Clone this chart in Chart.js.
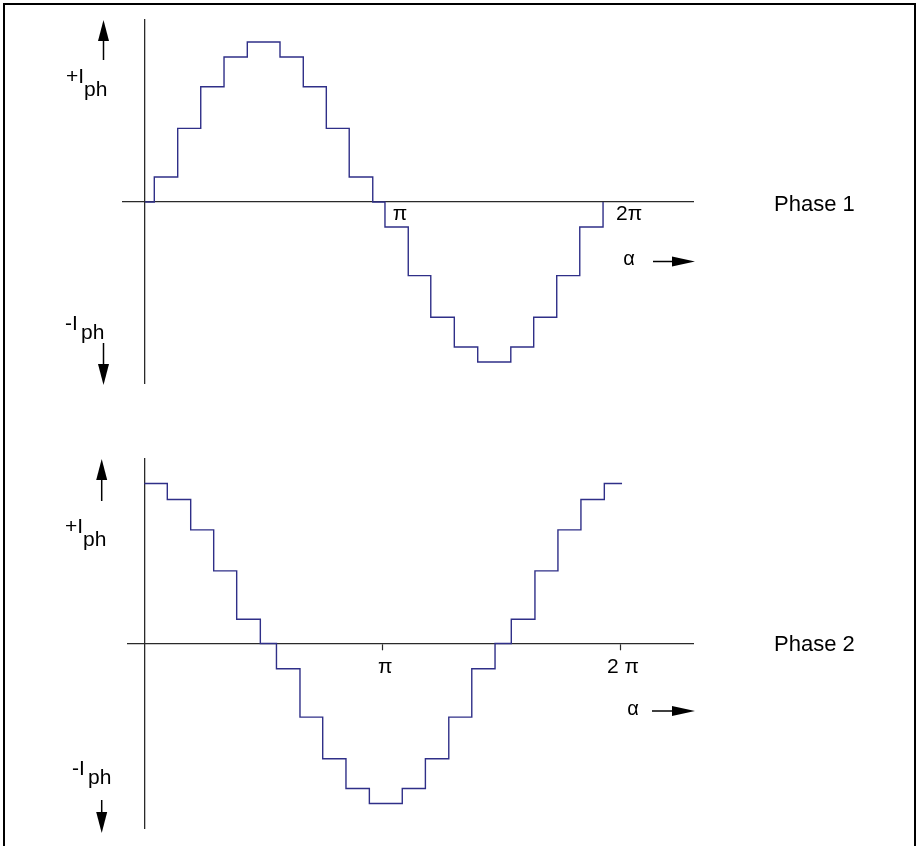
<!DOCTYPE html>
<html>
<head>
<meta charset="utf-8">
<script src="https://cdn.jsdelivr.net/npm/chart.js@4.4.1/dist/chart.umd.min.js"></script>
<style>
  html, body { margin: 0; padding: 0; background: #fff; }
  #page { position: relative; width: 919px; height: 846px; overflow: hidden; }
  #frame { position: absolute; left: 3px; top: 3px; width: 909px; height: 900px;
           border: 2px solid #000; border-bottom: none; }
  .panel { position: absolute; left: 0; width: 919px; height: 423px; }
  #p1 { top: 0; }
  #p2 { top: 423px; }
</style>
</head>
<body>
<div id="page">
  <div id="frame"></div>
  <div class="panel" id="p1"><canvas id="c1" width="919" height="423"></canvas></div>
  <div class="panel" id="p2"><canvas id="c2" width="919" height="423"></canvas></div>
</div>
<script>
// Electrical angle (degrees) at which each current step begins, and the level it takes (in units of I_ph)
const phase1Angles = [0, 7.3, 25.7, 43.8, 62.1, 80.4, 106.1, 124.4, 142.5, 160.5, 179.0,
                      188.6, 206.9, 224.6, 243.1, 261.5, 287.5, 305.5, 323.6, 341.7, 360.0];
const phase1Levels = [0, 0.156, 0.46, 0.72, 0.906, 1.0, 0.906, 0.72, 0.46, 0.156, 0,
                      -0.156, -0.46, -0.72, -0.906, -1.0, -0.906, -0.72, -0.46, -0.156, 0];

const phase2Angles = [0, 17.4, 35.1, 52.5, 69.9, 87.8, 100.0, 117.8, 135.0, 152.6, 170.3,
                      195.2, 212.7, 230.4, 247.8, 265.4, 277.7, 295.6, 313.0, 330.4, 348.1, 361.5];
const phase2Levels = [1.0, 0.9, 0.71, 0.454, 0.152, 0, -0.158, -0.46, -0.72, -0.906, -1.0,
                      -0.906, -0.72, -0.46, -0.158, 0, 0.152, 0.454, 0.71, 0.9, 1.0, 1.0];

// Angle axis ticks
const tickAngles = [180, 360];
const tickLabels1 = ['π', '2π'];
const tickLabels2 = ['π', '2 π'];

const phaseNames = ['Phase 1', 'Phase 2'];

const FONT = "'Liberation Sans', Arial, Helvetica, sans-serif";
const WAVE = '#2f2f88';
const AXIS = '#2a2a2a';

function vArrow(ctx, x, from, tip) {
  const dir = Math.sign(tip - from);
  const headLen = 21, half = 5.5;
  ctx.lineWidth = 1.5;
  ctx.beginPath();
  ctx.moveTo(x, from);
  ctx.lineTo(x, tip - dir * headLen);
  ctx.stroke();
  ctx.beginPath();
  ctx.moveTo(x, tip);
  ctx.lineTo(x - half, tip - dir * headLen);
  ctx.lineTo(x + half, tip - dir * headLen);
  ctx.closePath();
  ctx.fill();
}

function hArrow(ctx, x0, tip, y) {
  const headLen = 23, half = 5;
  ctx.lineWidth = 1.5;
  ctx.beginPath();
  ctx.moveTo(x0, y);
  ctx.lineTo(tip - headLen, y);
  ctx.stroke();
  ctx.beginPath();
  ctx.moveTo(tip, y);
  ctx.lineTo(tip - headLen, y - half);
  ctx.lineTo(tip - headLen, y + half);
  ctx.closePath();
  ctx.fill();
}

// Current-axis arrows, I_ph labels, the angle arrow and the phase name
const panelNotes = {
  id: 'panelNotes',
  afterDraw(chart, args, o) {
    const ctx = chart.ctx;
    ctx.save();
    ctx.fillStyle = '#000';
    ctx.strokeStyle = '#000';
    vArrow(ctx, o.arrowX, o.upFrom, o.upTip);
    vArrow(ctx, o.arrowX, o.downFrom, o.downTip);

    ctx.textBaseline = 'alphabetic';
    ctx.textAlign = 'left';
    ctx.font = '21px ' + FONT;
    ctx.fillText('+I', o.plusX, o.plusBase);
    ctx.fillText('ph', o.plusX + 18, o.plusBase + o.subDrop);
    ctx.fillText('-I', o.minusX, o.minusBase);
    ctx.fillText('ph', o.minusX + 16, o.minusBase + o.subDropMinus);

    ctx.font = '20px ' + FONT;
    ctx.textAlign = 'center';
    ctx.fillText('α', o.alphaX, o.alphaBase);
    hArrow(ctx, o.arrowFrom, o.arrowTip, o.arrowY);

    ctx.textAlign = 'left';
    ctx.font = '22px ' + FONT;
    ctx.fillText(o.name, o.nameX, o.nameBase);
    ctx.restore();
  }
};

function makePanel(canvasId, p) {
  const data = p.angles.map((a, i) => ({ x: a, y: p.levels[i] }));
  return new Chart(document.getElementById(canvasId), {
    type: 'line',
    data: {
      datasets: [{
        data,
        stepped: 'before',
        borderColor: WAVE,
        borderWidth: 1.4,
        pointRadius: 0,
        fill: false
      }]
    },
    options: {
      responsive: false,
      animation: false,
      layout: { padding: p.pad },
      plugins: {
        legend: { display: false },
        tooltip: { enabled: false },
        panelNotes: p.notes
      },
      scales: {
        x: {
          type: 'linear',
          min: p.xMin, max: p.xMax,
          position: { y: 0 },
          afterFit: s => { s.height = 0; s.paddingLeft = 0; s.paddingRight = 0; },
          afterBuildTicks: s => { s.ticks = tickAngles.map(v => ({ value: v })); },
          grid: { display: p.tickMarks, drawOnChartArea: false, drawTicks: p.tickMarks,
                  tickLength: 6, tickColor: AXIS, tickWidth: 1.2 },
          border: { display: true, color: AXIS, width: 1.3 },
          ticks: {
            autoSkip: false, maxRotation: 0, minRotation: 0,
            labelOffset: p.labelOffset, padding: p.labelPad,
            color: '#000', font: { family: FONT, size: 21 },
            callback: (v, i) => p.tickLabels[i]
          }
        },
        y: {
          type: 'linear',
          min: p.yMin, max: p.yMax,
          position: { x: 0 },
          afterFit: s => { s.width = 0; },
          grid: { display: false },
          border: { display: true, color: AXIS, width: 1.3 },
          ticks: { display: false }
        }
      }
    },
    plugins: [panelNotes]
  });
}

makePanel('c1', {
  angles: phase1Angles, levels: phase1Levels, tickLabels: tickLabels1,
  xMin: -17.3, xMax: 430.7, yMin: -1.131, yMax: 1.1375,
  pad: { left: 123, right: 226, top: 20, bottom: 40 },
  tickMarks: false, labelOffset: 26, labelPad: 0,
  notes: {
    arrowX: 103.5, upFrom: 60, upTip: 20, downFrom: 343, downTip: 385,
    plusX: 66, plusBase: 83, subDrop: 13,
    minusX: 65, minusBase: 330, subDropMinus: 9,
    alphaX: 629, alphaBase: 265, arrowFrom: 653, arrowTip: 695, arrowY: 261.5,
    name: phaseNames[0], nameX: 774, nameBase: 211
  }
});

makePanel('c2', {
  angles: phase2Angles, levels: phase2Levels, tickLabels: tickLabels2,
  xMin: -12.34, xMax: 415.2, yMin: -1.153, yMax: 1.153,
  pad: { left: 128, right: 226, top: 36, bottom: 18 },
  tickMarks: true, labelOffset: 3, labelPad: 5,
  notes: {
    arrowX: 101.7, upFrom: 501 - 423, upTip: 459 - 423, downFrom: 800 - 423, downTip: 833 - 423,
    plusX: 65, plusBase: 533 - 423, subDrop: 13,
    minusX: 72, minusBase: 775 - 423, subDropMinus: 9,
    alphaX: 633, alphaBase: 715 - 423, arrowFrom: 652, arrowTip: 695, arrowY: 711 - 423,
    name: phaseNames[1], nameX: 774, nameBase: 651 - 423
  }
});
</script>
</body>
</html>
